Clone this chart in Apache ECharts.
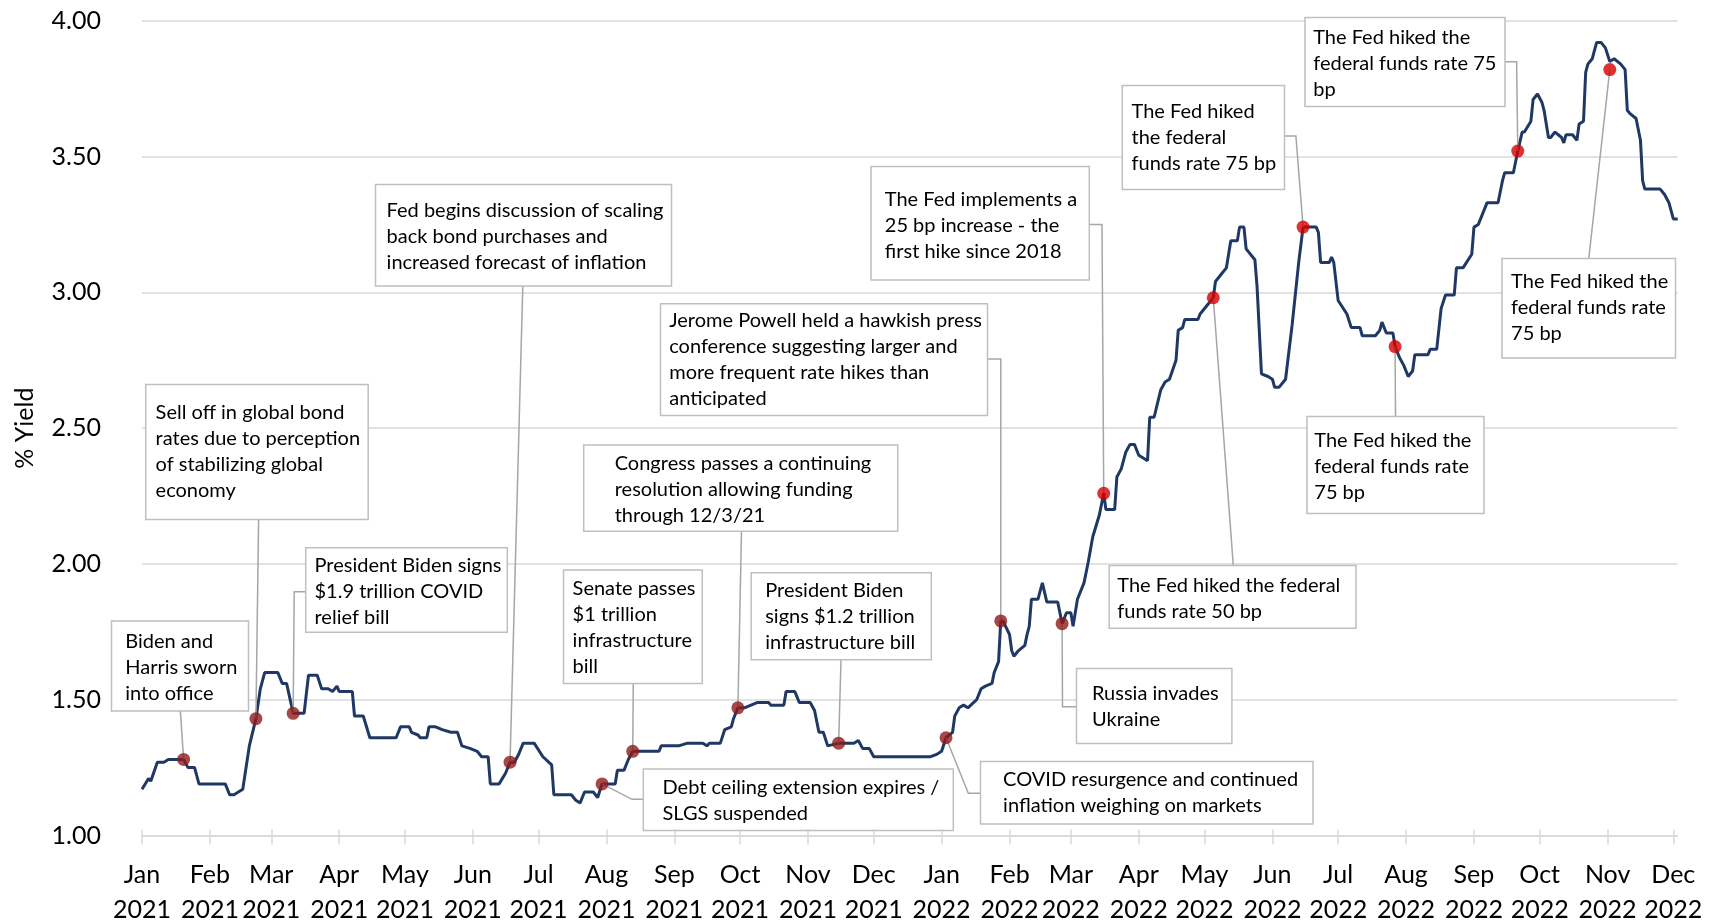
<!DOCTYPE html>
<html>
<head>
<meta charset="utf-8">
<script src="https://cdn.jsdelivr.net/npm/echarts@6/dist/echarts.min.js"></script>
<style>
html,body{margin:0;padding:0;background:#ffffff;}
#chart{width:1718px;height:922px;}
</style>
</head>
<body>
<div id="chart"></div>
<script>
// ---------------- DATA ----------------
const yieldDates = [
 '2021-01-01','2021-01-04','2021-01-05','2021-01-08','2021-01-11','2021-01-13','2021-01-18','2021-01-20','2021-01-22','2021-01-25',
 '2021-01-27','2021-02-08','2021-02-10','2021-02-12','2021-02-16','2021-02-19','2021-02-22','2021-02-24','2021-02-26','2021-03-04',
 '2021-03-06','2021-03-08','2021-03-11','2021-03-14','2021-03-16','2021-03-18','2021-03-22','2021-03-24','2021-03-27','2021-03-29',
 '2021-03-31','2021-04-01','2021-04-07','2021-04-08','2021-04-12','2021-04-15','2021-04-27','2021-04-29','2021-05-03','2021-05-04',
 '2021-05-07','2021-05-08','2021-05-11','2021-05-12','2021-05-15','2021-05-18','2021-05-22','2021-05-25','2021-05-27','2021-05-31',
 '2021-06-03','2021-06-05','2021-06-08','2021-06-09','2021-06-13','2021-06-16','2021-06-18','2021-06-20','2021-06-22','2021-06-24',
 '2021-06-29','2021-07-03','2021-07-07','2021-07-08','2021-07-16','2021-07-18','2021-07-20','2021-07-22','2021-07-26','2021-07-28',
 '2021-07-30','2021-08-02','2021-08-05','2021-08-06','2021-08-09','2021-08-11','2021-08-13','2021-08-25','2021-08-26','2021-09-03',
 '2021-09-07','2021-09-14','2021-09-16','2021-09-17','2021-09-22','2021-09-24','2021-09-27','2021-09-28','2021-09-30','2021-10-03',
 '2021-10-06','2021-10-09','2021-10-14','2021-10-15','2021-10-21','2021-10-22','2021-10-26','2021-10-28','2021-11-02','2021-11-04',
 '2021-11-06','2021-11-08','2021-11-10','2021-11-15','2021-11-22','2021-11-24','2021-11-26','2021-11-29','2021-12-01','2021-12-27',
 '2021-12-30',
 '2022-01-01','2022-01-03','2022-01-06','2022-01-07','2022-01-09','2022-01-11','2022-01-13','2022-01-17','2022-01-19','2022-01-21',
 '2022-01-24','2022-01-25','2022-01-27','2022-01-28','2022-01-29','2022-02-01','2022-02-02','2022-02-03','2022-02-05','2022-02-08',
 '2022-02-09','2022-02-10','2022-02-11','2022-02-14','2022-02-16','2022-02-18','2022-02-23','2022-02-25','2022-02-27','2022-03-01',
 '2022-03-02','2022-03-04','2022-03-07','2022-03-09','2022-03-11','2022-03-14','2022-03-16','2022-03-17','2022-03-21','2022-03-22',
 '2022-03-24','2022-03-26','2022-03-28','2022-03-30','2022-04-01','2022-04-05','2022-04-06','2022-04-08','2022-04-11','2022-04-13',
 '2022-04-15','2022-04-18','2022-04-19','2022-04-21','2022-04-22','2022-04-28','2022-04-29','2022-04-30','2022-05-05','2022-05-06',
 '2022-05-09','2022-05-11','2022-05-13','2022-05-16','2022-05-17','2022-05-19','2022-05-20','2022-05-24','2022-05-25','2022-05-27',
 '2022-05-30','2022-06-01','2022-06-02','2022-06-04','2022-06-07','2022-06-10','2022-06-13','2022-06-15','2022-06-21','2022-06-22',
 '2022-06-23','2022-06-27','2022-06-28','2022-06-29','2022-07-01','2022-07-05','2022-07-07','2022-07-11','2022-07-12','2022-07-18',
 '2022-07-20','2022-07-21','2022-07-23','2022-07-26','2022-07-27','2022-07-29','2022-07-31','2022-08-02','2022-08-04','2022-08-05',
 '2022-08-11','2022-08-12','2022-08-15','2022-08-17','2022-08-19','2022-08-23','2022-08-24','2022-08-27','2022-08-31','2022-09-01',
 '2022-09-03','2022-09-07','2022-09-12','2022-09-14','2022-09-15','2022-09-19','2022-09-21','2022-09-23','2022-09-24','2022-09-27',
 '2022-09-28','2022-09-30','2022-10-02','2022-10-03','2022-10-05','2022-10-06','2022-10-08','2022-10-11','2022-10-12','2022-10-13',
 '2022-10-16','2022-10-18','2022-10-19','2022-10-21','2022-10-22','2022-10-23','2022-10-25','2022-10-27','2022-10-29','2022-10-31',
 '2022-11-02','2022-11-04','2022-11-07','2022-11-09','2022-11-10','2022-11-11','2022-11-14','2022-11-16','2022-11-17','2022-11-18',
 '2022-11-25','2022-11-27','2022-11-29','2022-12-01','2022-12-03'
];
const yieldValues = [
 1.17,1.21,1.20,1.27,1.27,1.28,1.28,1.28,1.25,1.25,
 1.19,1.19,1.15,1.15,1.17,1.33,1.43,1.54,1.60,1.60,
 1.56,1.56,1.45,1.45,1.45,1.59,1.59,1.54,1.54,1.53,
 1.55,1.53,1.53,1.44,1.44,1.36,1.36,1.40,1.40,1.38,
 1.37,1.36,1.36,1.40,1.40,1.39,1.38,1.38,1.33,1.32,
 1.31,1.29,1.29,1.19,1.19,1.23,1.27,1.27,1.30,1.34,
 1.34,1.29,1.26,1.15,1.15,1.13,1.12,1.16,1.16,1.14,
 1.19,1.19,1.19,1.24,1.24,1.28,1.31,1.31,1.33,1.33,
 1.34,1.34,1.33,1.34,1.34,1.39,1.40,1.43,1.47,1.47,
 1.48,1.49,1.49,1.48,1.48,1.53,1.53,1.49,1.49,1.46,
 1.38,1.38,1.33,1.34,1.34,1.35,1.32,1.32,1.29,1.29,
 1.30,
 1.31,1.36,1.38,1.44,1.47,1.48,1.47,1.50,1.54,1.55,
 1.56,1.60,1.64,1.79,1.79,1.74,1.68,1.66,1.68,1.70,
 1.74,1.77,1.87,1.87,1.93,1.86,1.86,1.78,1.82,1.82,
 1.77,1.87,1.93,2.01,2.10,2.18,2.26,2.20,2.20,2.32,
 2.35,2.41,2.44,2.44,2.40,2.38,2.54,2.54,2.64,2.67,
 2.68,2.75,2.86,2.87,2.90,2.90,2.92,2.93,2.98,3.04,
 3.07,3.09,3.19,3.19,3.24,3.24,3.16,3.12,3.02,2.70,
 2.69,2.68,2.65,2.65,2.68,2.88,3.11,3.24,3.24,3.22,
 3.11,3.11,3.13,3.11,2.97,2.92,2.87,2.87,2.84,2.84,
 2.86,2.89,2.85,2.85,2.80,2.76,2.73,2.69,2.71,2.77,
 2.77,2.79,2.79,2.94,2.99,2.99,3.09,3.09,3.14,3.24,
 3.25,3.33,3.33,3.41,3.44,3.44,3.52,3.59,3.59,3.63,
 3.71,3.73,3.70,3.67,3.57,3.57,3.59,3.57,3.55,3.58,
 3.58,3.56,3.62,3.63,3.81,3.84,3.86,3.92,3.92,3.90,
 3.85,3.86,3.84,3.82,3.67,3.66,3.64,3.56,3.41,3.38,
 3.38,3.36,3.33,3.27,3.27
];

const eventDates = [
 '2021-01-20','2021-02-22','2021-03-11','2021-06-18','2021-07-30','2021-08-13','2021-09-30','2021-11-15',
 '2022-01-03','2022-01-28','2022-02-25','2022-03-16','2022-05-05','2022-06-15','2022-07-27','2022-09-21','2022-11-02'
];
const eventValues = [1.28,1.43,1.45,1.27,1.19,1.31,1.47,1.34,1.36,1.79,1.78,2.26,2.98,3.24,2.80,3.52,3.82];
const eventTexts = [
 'Biden and\nHarris sworn\ninto office',
 'Sell off in global bond\nrates due to perception\nof stabilizing global\neconomy',
 'President Biden signs\n$1.9 trillion COVID\nrelief bill',
 'Fed begins discussion of scaling\nback bond purchases and\nincreased forecast of inflation',
 'Debt ceiling extension expires /\nSLGS suspended',
 'Senate passes\n$1 trillion\ninfrastructure\nbill',
 'Congress passes a continuing\nresolution allowing funding\nthrough 12/3/21',
 'President Biden\nsigns $1.2 trillion\ninfrastructure bill',
 'COVID resurgence and continued\ninflation weighing on markets',
 'Jerome Powell held a hawkish press\nconference suggesting larger and\nmore frequent rate hikes than\nanticipated',
 'Russia invades\nUkraine',
 'The Fed implements a\n25 bp increase - the\nfirst hike since 2018',
 'The Fed hiked the federal\nfunds rate 50 bp',
 'The Fed hiked\nthe federal\nfunds rate 75 bp',
 'The Fed hiked the\nfederal funds rate\n75 bp',
 'The Fed hiked the\nfederal funds rate 75\nbp',
 'The Fed hiked the\nfederal funds rate\n75 bp'
];

const monthNames = ['Jan','Feb','Mar','Apr','May','Jun','Jul','Aug','Sep','Oct','Nov','Dec'];
const xMin = '2021-01-01';
const xMax = '2022-12-03';
const yMin = 1, yMax = 4, yStep = 0.5;
const yName = '% Yield';

// ---------------- LAYOUT (pixels, annotation boxes & leader routes) ----------------
const boxLayout = [
 {x:111.5, y:621,   w:137,   h:90,    tx:125.3, ty:628.7, route:[[180.4,711]]},
 {x:145.7, y:384.6, w:222.5, h:134.8, tx:155.6, ty:400,   route:[[258.6,519.4]]},
 {x:305.7, y:547.8, w:201.6, h:84.4,  tx:314.5, ty:552.4, route:[[294.2,591.7],[305.7,591.7]]},
 {x:375.5, y:184.5, w:296,   h:101.5, tx:386.6, ty:197.7, route:[[522.8,286]]},
 {x:643.3, y:769,   w:310,   h:61.5,  tx:662.5, ty:774.3, route:[[632,799.3],[643.3,799.3]]},
 {x:563.5, y:570,   w:138.8, h:113.5, tx:572.6, ty:575.3, route:[[633.3,683.5]]},
 {x:583.7, y:445,   w:314,   h:86.2,  tx:614.7, ty:450.3, route:[[741.5,531.2]]},
 {x:751.2, y:572.8, w:180.1, h:87,    tx:765.2, ty:577.7, route:[[841,659.8]]},
 {x:980.5, y:761.6, w:332.5, h:62.5,  tx:1003.1,ty:767,   route:[[968.3,793.3],[980.5,793.3]]},
 {x:660.5, y:303.8, w:327,   h:111.7, tx:669.2, ty:308,   route:[[1000.8,359],[987.5,359]]},
 {x:1076.5,y:668.4, w:155.4, h:75,    tx:1092,  ty:680.3, route:[[1062.5,706.7],[1076.5,706.7]]},
 {x:871,   y:166.6, w:218.3, h:113.5, tx:884.8, ty:186.3, route:[[1102,224.5],[1089.3,224.5]]},
 {x:1109.2,y:565.6, w:246.8, h:62.6,  tx:1117.3,ty:573,   route:[[1233.3,565.6]]},
 {x:1122.3,y:85.4,  w:162.2, h:104,   tx:1131.5,ty:98.7,  route:[[1295.9,136],[1284.5,136]]},
 {x:1307,  y:416.6, w:177,   h:97,    tx:1314.3,ty:428,   route:[[1395.5,416.6]]},
 {x:1305,  y:17.6,  w:200,   h:89,    tx:1313.2,ty:24.7,  route:[[1516.6,61.7],[1505,61.7]]},
 {x:1502,  y:258.4, w:173.5, h:99.7,  tx:1511.1,ty:268.7, route:[[1588.8,258.4]]}
];

// ---------------- STYLE ----------------
const FONT = 'Lato, "Open Sans", sans-serif';
const LINE_COLOR = '#1F3864';
const GRID_COLOR = '#d9d9d9';
const DOT_DARK = '#8E1A1A';
const DOT_BRIGHT = '#D40000';
const BRIGHT_FROM = '2022-03-01';

function ts(s){const p=s.split('-').map(Number);return new Date(p[0],p[1]-1,p[2]).getTime();}

const monthTicks = [];
for (let y=2021; y<=2022; y++) for (let m=0; m<12; m++) {
  const t = new Date(y,m,1).getTime();
  if (t <= ts(xMax)) monthTicks.push(t);
}

const lineData = yieldDates.map((d,i)=>[ts(d), yieldValues[i]]);
const eventData = eventDates.map((d,i)=>({
  value:[ts(d), eventValues[i]],
  itemStyle:{color: ts(d) >= ts(BRIGHT_FROM) ? DOT_BRIGHT : DOT_DARK}
}));

const chart = echarts.init(document.getElementById('chart'), null, {renderer:'canvas'});

const option = {
  animation:false,
  backgroundColor:'#ffffff',
  grid:{left:142, right:40.3, top:20.7, bottom:86.5, containLabel:false, outerBoundsMode:'none'},
  xAxis:[{
    type:'value', min:ts(xMin), max:ts(xMax), position:'bottom',
    axisLine:{show:true, lineStyle:{color:GRID_COLOR, width:1.5}},
    axisTick:{show:true, length:9, customValues:monthTicks, lineStyle:{color:GRID_COLOR, width:1.5}},
    axisLabel:{
      customValues:monthTicks,
      formatter:function(v){const d=new Date(v);return monthNames[d.getMonth()]+'\n'+d.getFullYear();},
      fontFamily:FONT, fontSize:25, color:'#000', lineHeight:35, margin:21.5, hideOverlap:false
    },
    splitLine:{show:false}
  },{
    type:'value', min:ts(xMin), max:ts(xMax), position:'bottom',
    axisLine:{show:false},
    axisTick:{show:true, inside:true, length:6, customValues:monthTicks, lineStyle:{color:GRID_COLOR, width:1.5}},
    axisLabel:{show:false},
    splitLine:{show:false}
  }],
  yAxis:{
    type:'value', min:yMin, max:yMax, interval:yStep,
    name:yName, nameLocation:'middle', nameGap:105,
    nameTextStyle:{fontFamily:FONT, fontSize:25, color:'#000'},
    axisLine:{show:false}, axisTick:{show:false},
    axisLabel:{formatter:function(v){return v.toFixed(2);}, fontFamily:FONT, fontSize:25, color:'#000', margin:41},
    splitLine:{show:true, lineStyle:{color:GRID_COLOR, width:1.5}}
  },
  series:[{
    type:'line', data:lineData, showSymbol:false, symbol:'none',
    lineStyle:{color:LINE_COLOR, width:3}, z:3, silent:true
  },{
    type:'scatter', data:eventData, symbolSize:13, z:8, silent:true
  }]
};
chart.setOption(option);

// annotations: boxes + leader lines anchored on the event points (pixel position from the chart's scales)
const graphics = [];
eventDates.forEach(function(d,i){
  const p = chart.convertToPixel({xAxisIndex:0, yAxisIndex:0}, [ts(d), eventValues[i]]);
  const L = boxLayout[i];
  const pts = [p].concat(L.route);
  graphics.push({type:'polyline', z:4, silent:true, shape:{points:pts},
    style:{stroke:'#a6a6a6', lineWidth:1.5, fill:null}});
  graphics.push({type:'rect', z:5, silent:true, shape:{x:L.x, y:L.y, width:L.w, height:L.h},
    style:{fill:'#ffffff', stroke:'#bfbfbf', lineWidth:1.5}});
  graphics.push({type:'text', z:6, silent:true,
    style:{text:eventTexts[i], x:L.tx, y:L.ty, fill:'#000', fontFamily:FONT, fontSize:20,
      lineHeight:26, align:'left', verticalAlign:'top'}});
});
chart.setOption({graphic:{elements:graphics}});
</script>
</body>
</html>
